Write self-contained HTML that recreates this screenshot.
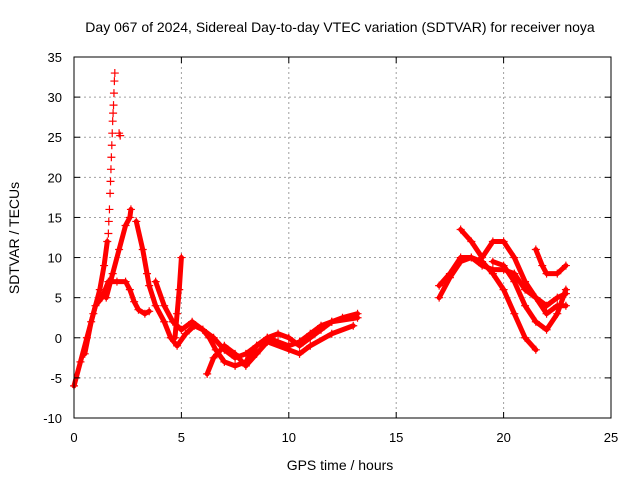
<!DOCTYPE html>
<html><head><meta charset="utf-8"><style>
body{margin:0;background:#fff}
svg{display:block;font-family:"Liberation Sans",sans-serif}
</style></head><body>
<svg id="c" width="640" height="480">
<text x="340" y="32" font-size="14" text-anchor="middle">Day 067 of 2024, Sidereal Day-to-day VTEC variation (SDTVAR) for receiver noya</text>
<text x="340" y="470" font-size="14" text-anchor="middle">GPS time / hours</text>
<text transform="translate(19,238) rotate(-90)" font-size="14" text-anchor="middle">SDTVAR / TECUs</text>
<g id="grid"></g><g id="series"></g><g id="axes"></g>
<rect x="74" y="57" width="537" height="361" fill="none" stroke="#000"/>
</svg>
<script>
const xTicks=[0,5,10,15,20,25];
const yTicks=[-10,-5,0,5,10,15,20,25,30,35];
const trackA=[[0,-6],[0.3,-3],[0.6,0],[0.9,3],[1.2,6],[1.4,9],[1.55,12]];
const spikeX=[1.6,1.62,1.65,1.68,1.7,1.72,1.74,1.76,1.78,1.8,1.82,1.84,1.86,1.88,1.9,2.1,2.15];
const spikeY=[13,14.5,16,18,19.5,21,22.5,24,25.5,27,28,29,30.5,32,33,25.5,25.2];
const trackB=[[0.5,-2],[0.8,2],[1.0,4],[1.3,5],[1.6,7],[2.0,7],[2.4,7],[2.6,6],[2.8,4.5],[3.0,3.5],[3.3,3],[3.5,3.3]];
const trackC=[[1.5,5],[1.8,8],[2.1,11],[2.4,14],[2.6,15],[2.65,16]];
const trackD=[[2.9,14.5],[3.2,11],[3.4,8],[3.5,6.5],[3.8,4],[4.2,2],[4.5,0],[4.8,-1],[5.2,0.5],[5.6,1.5],[6.0,1],[6.3,0],[6.6,-1.5],[7.0,-3],[7.5,-3.5],[8,-3],[8.5,-1],[9,0],[9.5,0.5],[10,0],[10.5,-1],[11,0],[11.5,1],[12,2],[12.5,2.5],[13.2,3]];
const trackE=[[3.8,7],[4.2,4],[4.6,2],[5.0,1],[5.5,2],[6,1],[6.5,0],[7,-1.5],[7.5,-2.5],[8,-2],[8.5,-1],[9,0],[9.5,-0.5],[10,-1],[10.5,-0.5],[11,0.5],[11.5,1.5],[12,2],[13.2,2.5]];
const trackF=[[4.7,0],[4.8,3],[4.9,6],[5.0,10]];
const trackG=[[6.2,-4.5],[6.5,-2.5],[7,-1],[7.5,-2],[8,-3.5],[8.5,-2],[9,-0.5],[10,-1.5],[10.5,-2],[11,-1],[12,0.5],[13,1.5]];
const trackH=[[17,5],[17.5,7.5],[18,9.5],[18.5,10],[19,9],[19.5,8.5],[20,8.5],[20.5,8],[21,6],[21.5,5],[22,4],[22.5,5],[22.9,5.5]];
const trackI=[[17,6.5],[17.5,8],[18,10],[18.5,10],[19,9.5],[19.5,8],[20,6],[20.5,3],[21,0],[21.5,-1.5]];
const trackJ=[[18,13.5],[18.5,12],[19,10],[19.5,12],[20,12],[20.5,10],[21,7],[21.5,5],[22,3],[22.5,4],[22.9,4]];
const trackK=[[21.5,11],[21.8,9],[22,8],[22.5,8],[22.9,9]];
const trackL=[[19.5,9.5],[20,9],[20.5,7],[21,4],[21.5,2],[22,1],[22.5,3],[22.9,6]];
const tracks=[trackA,trackB,trackC,trackD,trackE,trackF,trackG,trackH,trackI,trackJ,trackK,trackL];
const NS="http://www.w3.org/2000/svg";
const L=74,R=611,T=57,B=418;
const sx=v=>L+(v-0)/(25-0)*(R-L);
const sy=v=>B-(v+10)/(45)*(B-T);
function mk(tag,attrs,parent){const e=document.createElementNS(NS,tag);for(const k in attrs)e.setAttribute(k,attrs[k]);parent.appendChild(e);return e;}
const grid=document.getElementById('grid'),axes=document.getElementById('axes'),ser=document.getElementById('series');
xTicks.forEach(t=>{
 const x=sx(t);
 if(t>0&&t<25){const g=mk('line',{x1:x,x2:x,y1:T,y2:B,stroke:'#a0a0a0','stroke-dasharray':'2,3'},grid);
 
 }
 mk('line',{x1:x,x2:x,y1:B,y2:B-6,stroke:'#000'},axes);
 mk('line',{x1:x,x2:x,y1:T,y2:T+6,stroke:'#000'},axes);
 const tx=mk('text',{x:x,y:B+24,'font-size':13,'text-anchor':'middle'},axes);tx.textContent=t;
 
 
});
yTicks.forEach(t=>{
 const y=sy(t);
 if(t>-10&&t<35){const g=mk('line',{x1:L,x2:R,y1:y,y2:y,stroke:'#a0a0a0','stroke-dasharray':'2,3'},grid);
 
 }
 mk('line',{x1:L,x2:L+6,y1:y,y2:y,stroke:'#000'},axes);
 mk('line',{x1:R,x2:R-6,y1:y,y2:y,stroke:'#000'},axes);
 const tx=mk('text',{x:L-12,y:y+5,'font-size':13,'text-anchor':'end'},axes);tx.textContent=t;
 
 
});
function marker(x,y){
 const m=mk('path',{d:`M${x-4},${y}H${x+4}M${x},${y-4}V${y+4}`,stroke:'#f00','stroke-width':1.2},ser);
 
 
}
tracks.forEach((tr,i)=>{
 const pl=mk('polyline',{points:tr.map(p=>sx(p[0])+','+sy(p[1])).join(' '),fill:'none',stroke:'#f00','stroke-width':5,'stroke-linejoin':'round','stroke-linecap':'round'},ser);
 
 
 tr.forEach(p=>marker(sx(p[0]),sy(p[1])));
});
spikeX.forEach((v,i)=>marker(sx(v),sy(spikeY[i])));
</script>
</body></html>
